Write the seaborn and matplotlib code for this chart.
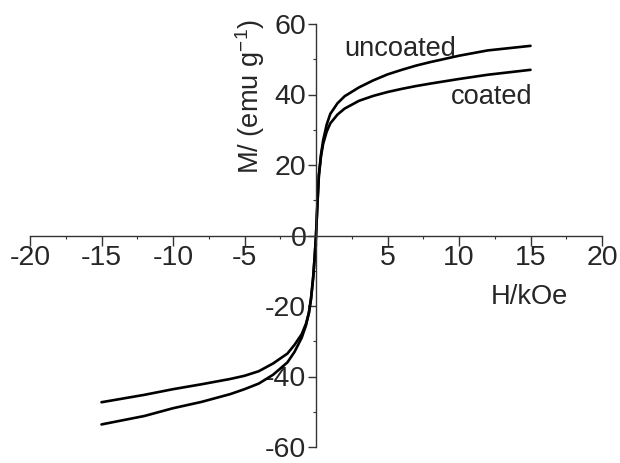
"""
M-H loops for coated and uncoated particles, axes crossing at the origin.
"""
import matplotlib
matplotlib.use('Agg')
import matplotlib.pyplot as plt
import seaborn as sns
import pandas as pd

# field (kOe) and magnetisation (emu/g)
field = [-15, -12, -10, -8, -6, -5, -4, -3, -2, -1.5, -1, -0.7, -0.5, -0.35, -0.2, -0.1, 0,
         0.1, 0.2, 0.35, 0.5, 0.75, 1, 1.5, 2, 3, 4, 5, 6, 7, 8, 10, 12, 15]
m_uncoated = [-53.6, -51.2, -49.0, -47.2, -45.0, -43.6, -42.0, -39.5, -36.0, -33.0, -29.0, -25.5,
              -22.0, -18.0, -12.0, -6.5, 0,
              9, 17, 23, 27, 31.5, 34.5, 37.5, 39.5, 42.0, 44.0, 45.7, 47.0, 48.2, 49.2, 51.0, 52.5, 53.8]
m_coated = [-47.3, -45.2, -43.6, -42.2, -40.7, -39.8, -38.5, -36.3, -33.5, -31.0, -28.0, -25.0,
            -22.0, -18.0, -12.0, -6.5, 0,
            9, 17, 22.5, 26, 29.5, 31.8, 34.3, 36.0, 38.2, 39.6, 40.7, 41.6, 42.4, 43.1, 44.4, 45.6, 47.0]

xticks = [-20, -15, -10, -5, 0, 5, 10, 15, 20]
xtick_labels = ['-20', '-15', '-10', '-5', '', '5', '10', '15', '20']
yticks = [-60, -40, -20, 0, 20, 40, 60]
ytick_labels = ['-60', '-40', '-20', '0', '20', '40', '60']

df = pd.DataFrame({
    'H': field * 2,
    'M': m_uncoated + m_coated,
    'sample': ['uncoated'] * len(field) + ['coated'] * len(field),
})

sns.set_style('ticks')
plt.rcParams['font.family'] = ['Liberation Sans', 'DejaVu Sans']
plt.rcParams['mathtext.fontset'] = 'custom'
plt.rcParams['mathtext.rm'] = 'Liberation Sans'
plt.rcParams['mathtext.it'] = 'Liberation Sans'
fs_tick = 20.5
fs_text = 19.6

fig = plt.figure(figsize=(6.2, 4.63), dpi=100)
ax = fig.add_axes([30 / 620, 1 - 447 / 463, 572 / 620, 423 / 463])

sns.lineplot(data=df, x='H', y='M', hue='sample', palette=['black', 'black'],
             sort=False, linewidth=1.9, legend=False, ax=ax)

ax.set_xlim(-20, 20)
ax.set_ylim(-60, 60)
ax.spines['left'].set_position(('data', 0))
ax.spines['bottom'].set_position(('data', 0))
ax.spines['top'].set_visible(False)
ax.spines['right'].set_visible(False)
for s in ['left', 'bottom']:
    ax.spines[s].set_linewidth(1.0)
    ax.spines[s].set_color('#333333')

ax.set_xticks(xticks)
ax.set_xticklabels(xtick_labels)
ax.set_yticks(yticks)
ax.set_yticklabels(ytick_labels)
ax.set_xticks([-17.5, -12.5, -7.5, -2.5, 2.5, 7.5, 12.5, 17.5], minor=True)
ax.set_yticks([-50, -30, -10, 10, 30, 50], minor=True)
ax.tick_params(axis='x', which='major', direction='out', length=7, width=1.0,
               labelsize=fs_tick, pad=0, color='#333333')
ax.tick_params(axis='y', which='major', direction='out', length=6, width=1.0,
               labelsize=fs_tick, pad=1, color='#333333')
ax.tick_params(which='minor', direction='out', length=2, width=0.8, color='#333333')
ax.set_xlabel('')
ax.set_ylabel('')

ax.text(12.2, -17.5, 'H/kOe', fontsize=fs_text, ha='left', va='center')
ax.text(-4.6, 39.5, 'M/ (emu g$^{-1}$)', fontsize=fs_text, rotation=90, ha='center', va='center')
ax.text(2.0, 52.9, 'uncoated', fontsize=fs_text, ha='left', va='center')
ax.text(9.4, 39.2, 'coated', fontsize=fs_text, ha='left', va='center')

plt.savefig('out.png', dpi=100)
